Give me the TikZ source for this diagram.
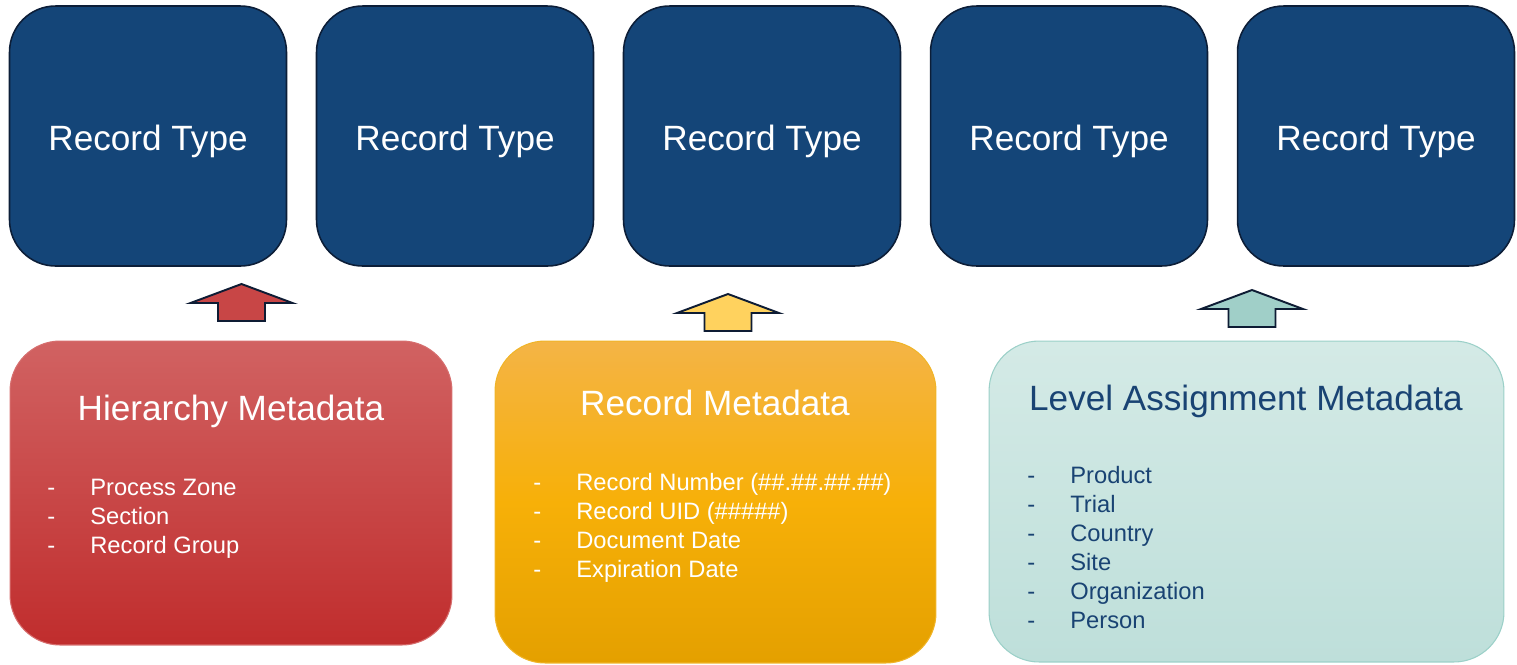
\documentclass[tikz,border=0pt]{standalone}
\usepackage{fontspec}
\setmainfont{Liberation Sans}
\usepackage{xcolor}
\usetikzlibrary{shapes.geometric}
\definecolor{rtnavy}{RGB}{20,69,120}
\definecolor{rtborder}{RGB}{12,30,56}
\definecolor{hiertop}{RGB}{209,98,98}
\definecolor{hierbot}{RGB}{192,45,45}
\definecolor{hierline}{RGB}{214,110,110}
\definecolor{rectop}{RGB}{244,180,70}
\definecolor{recmid}{RGB}{247,176,8}
\definecolor{recbot}{RGB}{228,160,0}
\definecolor{recline}{RGB}{240,180,40}
\definecolor{lvltop}{RGB}{212,234,230}
\definecolor{lvlbot}{RGB}{190,223,218}
\definecolor{lvlline}{RGB}{155,208,200}
\definecolor{lvltext}{RGB}{25,67,115}
\definecolor{arrred}{RGB}{200,70,70}
\definecolor{arryellow}{RGB}{255,210,94}
\definecolor{arrteal}{RGB}{160,207,200}
\definecolor{arrline}{RGB}{14,28,52}
\newcommand{\dashitem}[1]{\makebox[0.86cm][l]{-}#1}

\begin{document}
\begin{tikzpicture}[x=0.02cm, y=-0.02cm,
    rectype/.style={draw=rtborder, line width=0.9pt, fill=rtnavy, rounded corners=0.92cm,
      minimum width=5.54cm, minimum height=5.2cm, text=white,
      font=\fontsize{20pt}{24pt}\selectfont, text height=16.6pt, text depth=0pt},
    metabox/.style={rounded corners=1cm, line width=0.6pt, inner sep=0pt},
    metatitle/.style={anchor=base, inner sep=0pt, font=\fontsize{20pt}{24pt}\selectfont},
    metalist/.style={anchor=base west, inner sep=0pt, align=left,
      font=\fontsize{13.5pt}{16.5pt}\selectfont},
    blockarrow/.style={draw=arrline, line width=1.1pt, line join=miter}]
      \useasboundingbox (0,0) rectangle (1517,664);

      % record types
      \node [rectype, name=rt1] at (148,136) {Record Type};
      \node [rectype, name=rt2] at (455,136) {Record Type};
      \node [rectype, name=rt3] at (762,136) {Record Type};
      \node [rectype, name=rt4] at (1069,136) {Record Type};
      \node [rectype, name=rt5] at (1376,136) {Record Type};

      % metadata boxes
      \node [metabox, draw=hierline, top color=hiertop, bottom color=hierbot,
        minimum width=8.84cm, minimum height=6.08cm, name=hier] at (231,493) {};
      \node [metabox, draw=recline, top color=rectop, bottom color=recbot, middle color=recmid,
        minimum width=8.82cm, minimum height=6.44cm, name=rec] at (715.5,502) {};
      \node [metabox, draw=lvlline, top color=lvltop, bottom color=lvlbot,
        minimum width=10.3cm, minimum height=6.42cm, name=lvl] at (1246.5,501.5) {};

      \node [metatitle, text=white, name=hiertitle] at (231,420) {Hierarchy Metadata};
      \node [metatitle, text=white, name=rectitle] at (715,415) {Record Metadata};
      \node [metatitle, text=lvltext, name=lvltitle] at (1246,410) {Level Assignment Metadata};

      % lists (base is the last line)
      \node [metalist, text=white, name=hierlist] at (47,553)
        {\dashitem{Process Zone}\\ \dashitem{Section}\\ \dashitem{Record Group}};
      \node [metalist, text=white, name=reclist] at (533,577)
        {\dashitem{Record Number (\#\#.\#\#.\#\#.\#\#)}\\ \dashitem{Record UID (\#\#\#\#\#)}\\
         \dashitem{Document Date}\\ \dashitem{Expiration Date}};
      \node [metalist, text=lvltext, name=lvllist] at (1027,628)
        {\dashitem{Product}\\ \dashitem{Trial}\\ \dashitem{Country}\\ \dashitem{Site}\\
         \dashitem{Organization}\\ \dashitem{Person}};

      % block arrows
      \draw [blockarrow, fill=arrred, shift={(241.5,321)}]
        (0,-37) -- (51,-18) -- (23.5,-18) -- (23.5,0) -- (-23.5,0) -- (-23.5,-18) -- (-51,-18) -- cycle;
      \draw [blockarrow, fill=arryellow, shift={(728,331)}]
        (0,-37) -- (51,-18) -- (23.5,-18) -- (23.5,0) -- (-23.5,0) -- (-23.5,-18) -- (-51,-18) -- cycle;
      \draw [blockarrow, fill=arrteal, shift={(1252,327)}]
        (0,-37) -- (51,-18) -- (23.5,-18) -- (23.5,0) -- (-23.5,0) -- (-23.5,-18) -- (-51,-18) -- cycle;

    \end{tikzpicture}
\end{document}
